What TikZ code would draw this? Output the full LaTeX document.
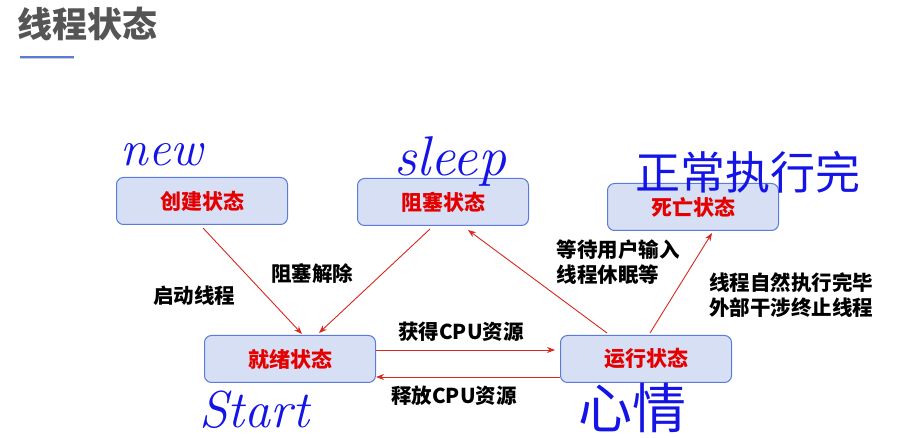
\documentclass[tikz,border=0pt]{standalone}
\usepackage{fontspec}
\newfontfamily\cjk{Noto Sans CJK SC}
\usetikzlibrary{arrows.meta,shadows}
\definecolor{boxblue}{HTML}{5B7BD8}
\definecolor{boxfill}{HTML}{D7DFF5}
\definecolor{arrred}{HTML}{D8281E}
\definecolor{titlegray}{HTML}{555555}
\definecolor{ink}{HTML}{1414E6}
\begin{document}
\begin{tikzpicture}[x=1pt,y=-1pt,
  stbox/.style={draw=boxblue, fill=boxfill, rounded corners=7pt, minimum width=171pt, minimum height=47pt, line width=1pt, font=\cjk\bfseries\fontsize{21}{21}\selectfont, text=red!90!black},
  arr/.style={-{Stealth[length=8pt,width=6pt]}, draw=arrred, line width=0.9pt},
  lbl/.style={font=\cjk\bfseries\fontsize{20.5}{25}\selectfont, text=black, align=left},
  hand/.style={text=ink, inner sep=0pt}]
\useasboundingbox (0,0) rectangle (911,438);
\fill[white] (0,0) rectangle (911,438);
% title
\node[anchor=west, font=\cjk\bfseries\fontsize{35}{35}\selectfont, text=titlegray, inner sep=0pt] (title) at (17,24) {线程状态};
\coordinate (ulA) at (20,57);
\coordinate (ulB) at (74,57);
\draw[line width=2pt, black!20] ([yshift=-1.5pt]ulA) -- ([yshift=-1.5pt]ulB);
\draw[line width=2pt, boxblue] (ulA) -- (ulB);
% boxes
\node[stbox] (create) at (202,201) {创建状态};
\node[stbox] (block) at (443,202) {阻塞状态};
\node[stbox] (dead) at (693,207) {死亡状态};
\node[stbox] (ready) at (290,359) {就绪状态};
\node[stbox] (run) at (646,359) {运行状态};
% arrows
\draw[arr] ([xshift=1pt,yshift=-3pt]create.south) -- ([xshift=12pt,yshift=1pt]ready.north);
\draw[arr] ([xshift=-13pt,yshift=-3pt]block.south) -- ([xshift=29pt,yshift=2pt]ready.north);
\draw[arr] ([xshift=-39pt,yshift=2pt]run.north) -- ([xshift=25pt,yshift=-4pt]block.south);
\draw[arr] ([xshift=4pt,yshift=2pt]run.north) -- ([xshift=19pt,yshift=-2pt]dead.south);
\draw[arr] ([yshift=9pt]ready.east) -- ([xshift=-5pt,yshift=9pt]run.west);
\draw[arr] ([yshift=-18pt]run.west) -- ([yshift=-18pt]ready.east);
% labels
\node[lbl] (l1) at (194,296) {启动线程};
\node[lbl] (l2) at (312,274) {阻塞解除};
\node[lbl] (l3) at (618,262) {等待用户输入\\线程休眠等};
\node[lbl] (l4) at (791,295) {线程自然执行完毕\\外部干涉终止线程};
\node[lbl] (l5) at (461,332) {获得CPU资源};
\node[lbl] (l6) at (454,396) {释放CPU资源};
% handwritten notes
\node[hand, font=\itshape\fontsize{50}{50}\selectfont] (hnew) at (162,155) {new};
\node[hand, font=\itshape\fontsize{56}{56}\selectfont] (hsleep) at (450,162) {sleep};
\node[hand, font=\itshape\fontsize{52}{52}\selectfont] (hstart) at (254,410) {Start};
\node[hand, font=\cjk\fontsize{54}{54}\selectfont] (hmood) at (632,408) {心情};
\node[hand, font=\cjk\fontsize{45}{45}\selectfont] (hdone) at (748,172) {正常执行完};
\end{tikzpicture}
\end{document}
